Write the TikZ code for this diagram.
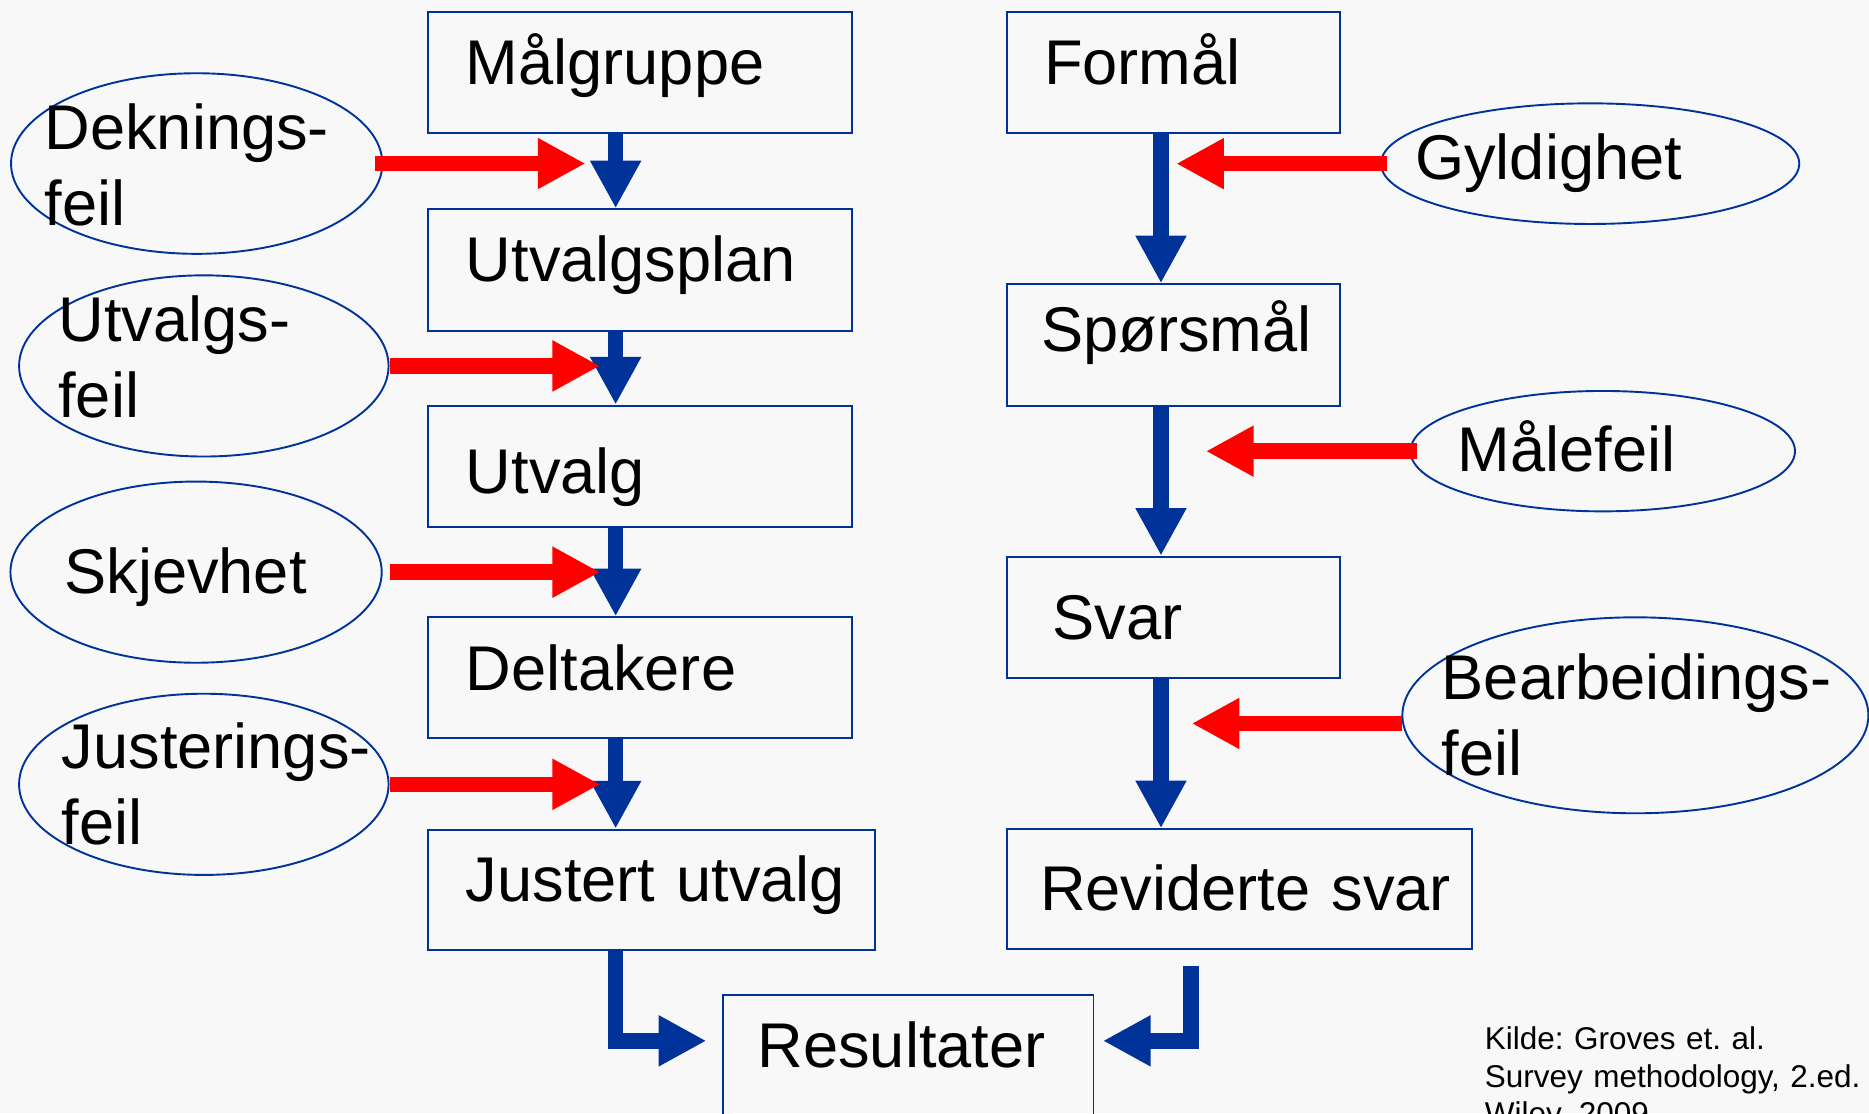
\documentclass[tikz,border=0pt]{standalone}
\usepackage{fontspec}
\setmainfont{Liberation Sans}
\usetikzlibrary{arrows.meta,shapes.geometric}
\definecolor{flowblue}{RGB}{0,51,153}
\definecolor{errred}{RGB}{255,0,0}
\definecolor{bggray}{RGB}{248,248,248}
\frenchspacing
\newcommand{\flowfont}{\fontsize{53}{63.5}\selectfont}
\newcommand{\notefont}{\fontsize{26.4}{31.5}\selectfont}
\tikzset{
  box/.style={draw=flowblue, line width=1.6pt, anchor=base west, inner xsep=31.5pt, inner ysep=0pt,
    text width=292.5pt, align=left, text height=61pt, text depth=40.5pt, font=\flowfont},
  errell/.style={draw=flowblue, line width=1.6pt, ellipse, inner sep=0pt},
  errtxt/.style={anchor=base west, inner sep=0pt, text width=360pt, align=left, font=\flowfont},
  flow/.style={draw=flowblue, line width=13pt, -{Triangle[length=40pt,width=40pt]}},
  err/.style={draw=errred, line width=13pt, -{Triangle[length=40pt,width=40pt]}}
}
\begin{document}
\begin{tikzpicture}[x=1pt,y=-1pt]
    \fill[bggray] (0,0) rectangle (1568,934);
    \useasboundingbox (0,0) rectangle (1568,934);
    \coordinate (lx) at (516.5,0);
    \coordinate (rx) at (974,0);
    \coordinate (ry) at (999,0);
    \coordinate (resy) at (0,873.2);

    \node[box] (mal) at (358.5,71.3) {Målgruppe};
    \node[box, text height=60.7pt, text depth=41.1pt] (utp) at (358.5,236.3) {Utvalgsplan};
    \node[box, text height=73.6pt, text depth=27.9pt] (utv) at (358.5,413.9) {Utvalg};
    \node[box, text height=61.3pt, text depth=40.3pt] (del) at (358.5,579.2) {Deltakere};
    \node[box, text width=311.5pt, text height=60.3pt, text depth=41pt] (jus) at (358.5,756.3) {\mbox{Justert utvalg}};
    \node[box, inner xsep=31pt, text width=217pt] (form) at (844.2,71.3) {Formål};
    \node[box, inner xsep=28.5pt, text width=222pt, text height=56.5pt, text depth=45.3pt] (spor) at (844.2,295) {Spørsmål};
    \node[box, inner xsep=38.2pt, text width=202.6pt, text height=69.3pt, text depth=32.2pt] (svar) at (844.2,536.3) {Svar};
    \node[box, inner xsep=27.7pt, text width=334.4pt, text height=68.3pt, text depth=32.4pt] (rev) at (844.2,764) {\mbox{Reviderte svar}};
    \node[box, inner xsep=29pt, text width=252.8pt, text depth=120pt] (res) at (605.8,895.7) {Resultater};

    \node[errell, minimum width=311.5pt, minimum height=151.5pt] (dek) at (165,137.2) {};
    \node[errell, minimum width=310pt, minimum height=152pt] (utf) at (171,307) {};
    \node[errell, minimum width=311.5pt, minimum height=152pt] (skj) at (164.5,480) {};
    \node[errell, minimum width=310pt, minimum height=152pt] (jst) at (171,658) {};
    \node[errell, minimum width=351pt, minimum height=101.2pt] (gyl) at (1334,137.3) {};
    \node[errell, minimum width=322.6pt, minimum height=101pt] (mfe) at (1344.6,378.5) {};
    \node[errell, minimum width=391pt, minimum height=164.4pt] (bea) at (1372,600.1) {};

    \node[errtxt] (dekt) at (37.2,125.8) {Deknings-\\feil};
    \node[errtxt] (utft) at (48.8,286.6) {Utvalgs-\\feil};
    \node[errtxt] (skjt) at (53.8,498.2) {Skjevhet};
    \node[errtxt] (jstt) at (51.6,645.1) {Justerings-\\feil};
    \node[errtxt] (gylt) at (1187,151) {Gyldighet};
    \node[errtxt] (mfet) at (1222.9,395.7) {Målefeil};
    \node[errtxt] (beat) at (1209.4,586.7) {Bearbeidings-\\feil};

    \node[errtxt, text width=330pt, font=\notefont] (kilde) at (1245.6,880.8)
        {Kilde: Groves et. al.\\Survey methodology, 2.ed.\\Wiley, 2009};

    \foreach \a/\b in {mal/utp,utp/utv,utv/del,del/jus}
        \draw[flow] (\a.south -| lx) -- (\b.north -| lx);
    \foreach \a/\b in {form/spor,spor/svar,svar/rev}
        \draw[flow] (\a.south -| rx) -- (\b.north -| rx);
    \draw[flow, shorten >=13.2pt] (jus.south -| lx) |- (res.west |- resy);
    \draw[flow, shorten <=13.2pt, shorten >=7.1pt] (rev.south -| ry) |- (res.east |- resy);

    \draw[err, shorten <=-6.7pt, shorten >=25.3pt] (dek.east) -- (dek.east -| lx);
    \draw[err, shorten >=13pt] (utf.east) -- (utf.east -| lx);
    \draw[err, shorten <=6pt, shorten >=13pt] (skj.east) -- (skj.east -| lx);
    \draw[err, shorten >=13pt] (jst.east) -- (jst.east -| lx);
    \draw[err, shorten <=-6pt, shorten >=12.8pt] (gyl.west) -- (gyl.west -| rx);
    \draw[err, shorten <=-6pt, shorten >=37.7pt] (mfe.west) -- (mfe.west -| rx);
    \draw[err, shorten >=25.8pt] (bea.182) -- (bea.182 -| rx);
\end{tikzpicture}
\end{document}
